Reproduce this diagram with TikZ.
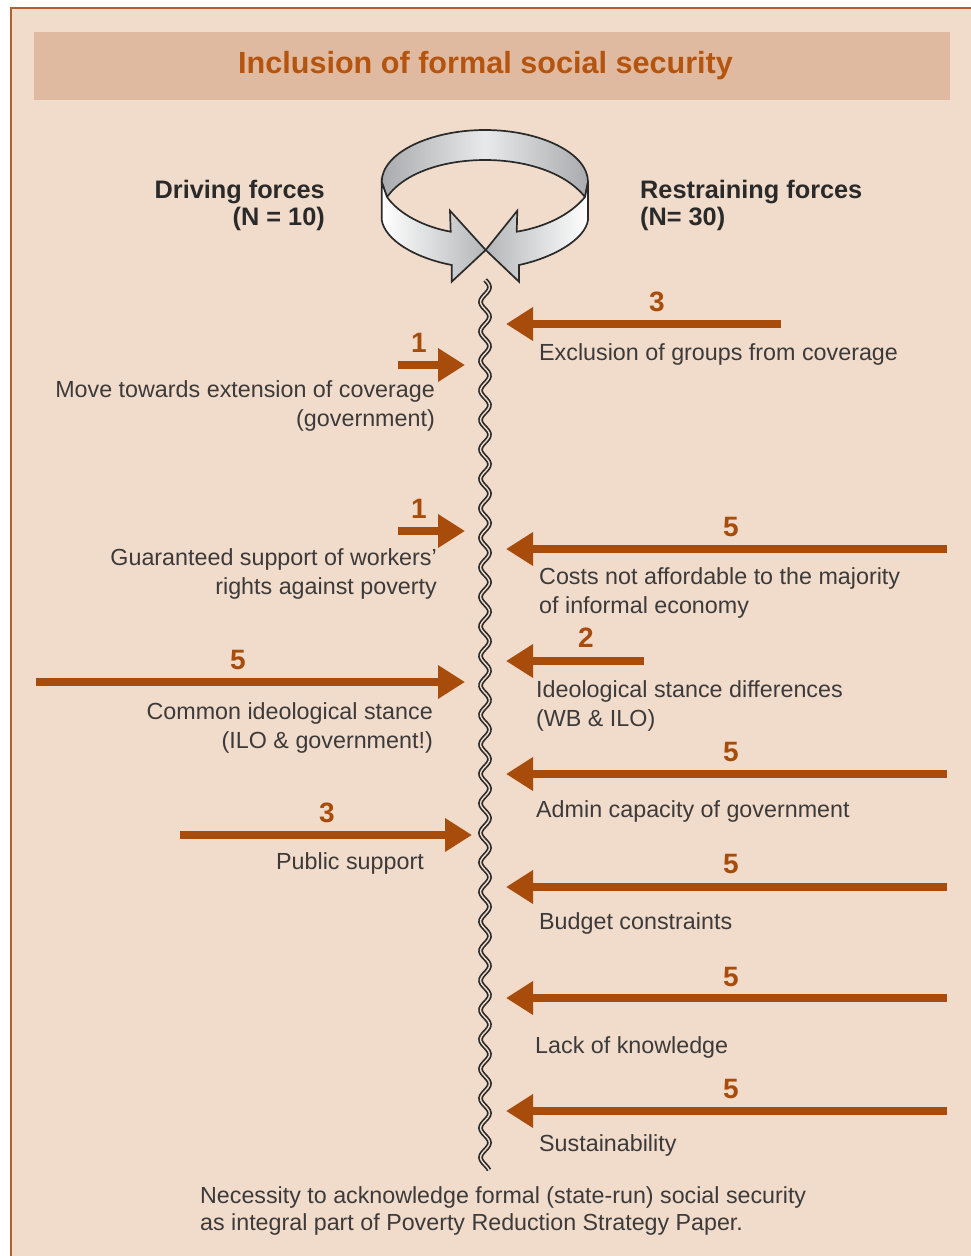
\documentclass[tikz,border=0pt]{standalone}
\usepackage{fontspec}
\setmainfont{Liberation Sans}
\usetikzlibrary{arrows.meta}
\definecolor{bgc}{HTML}{F1DCCB}
\definecolor{hdrc}{HTML}{E0BAA0}
\definecolor{edgec}{HTML}{B0622E}
\definecolor{rust}{HTML}{A84C0B}
\definecolor{titlec}{HTML}{B5540F}
\definecolor{txt}{HTML}{3C3A3A}
\definecolor{ink}{HTML}{2A2A2A}
\definecolor{g1}{HTML}{A9ABAE}
\definecolor{g2}{HTML}{E8E9EA}
\definecolor{g3}{HTML}{B4B6B8}
\tikzset{
 force/.style={draw=rust,line width=8pt,-{Triangle[length=27pt,width=32pt]}},
 num/.style={font=\fontsize{28}{28}\selectfont\bfseries,text=rust,inner sep=0pt,anchor=center},
 lblr/.style={font=\fontsize{23.3}{28.6}\selectfont,text=txt,inner sep=0pt,align=right,anchor=base east},
 lbll/.style={font=\fontsize{23.3}{28.6}\selectfont,text=txt,inner sep=0pt,align=left,anchor=base west},
 hd/.style={font=\fontsize{25.3}{27}\selectfont\bfseries,text=ink,inner sep=0pt},
 ribbon/.style={draw=ink,line width=1.7pt,line join=miter},
 waveline/.style={draw=ink,line width=1.7pt,double=bgc,double distance=1.4pt,line join=round}
}
\begin{document}
\begin{tikzpicture}[x=1pt,y=-1pt]
\useasboundingbox (0,0) rectangle (971,1256);
\fill[white] (0,0) rectangle (971,1256);
\fill[bgc] (11,8) rectangle (971,1256);
\draw[edgec,line width=1.4pt] (11,1256) -- (11,8) -- (971,8);
\fill[hdrc] (34,32) rectangle (950,100);
\node[font=\fontsize{30.6}{32}\selectfont\bfseries,text=titlec,inner sep=0pt] (title) at (485.5,66) {Inclusion of formal social security};
% ribbon
\draw[ribbon,left color=g1,right color=g1,middle color=g2]
 (381.7,182) .. controls (381.7,153) and (430,130) .. (485,130)
 .. controls (540,130) and (588,153) .. (588,182)
 -- (585,197) .. controls (565,172) and (525,160) .. (485,160)
 .. controls (445,160) and (405,172) .. (387,197) -- cycle;
\draw[ribbon,left color=white,right color=g3]
 (381.7,182) -- (381.7,220) .. controls (385,240) and (415,258) .. (451.7,265)
 -- (451.7,281.7) -- (485.7,250) -- (450,210.7) -- (450.7,231.7)
 .. controls (425,227) and (400,215) .. (387,197) -- cycle;
\draw[ribbon,left color=g3,right color=white]
 (588,182) -- (588,220) .. controls (585,240) and (552,258) .. (519,265)
 -- (519,281.7) -- (485.7,250) -- (517.3,210.7) -- (516.7,231.7)
 .. controls (545,227) and (570,215) .. (585,197) -- cycle;
% barrier
\draw[waveline] plot[variable=\t,domain=280:1170,samples=360,smooth] ({485+4.5*sin((\t-309.3)*12.2034)},\t);
% headings
\node[hd,align=right,anchor=base east] (drv) at (325,225) {Driving forces\\(N = 10)};
\node[hd,align=left,anchor=base west] (res) at (640,225) {Restraining forces\\(N= 30)};
% endpoints
\foreach \n/\xa/\xb/\y in {a/398/465/365,b/398/465/531,c/36/465/682,d/180/472/835,
  e/781/506/324,f/947/506/549,g/644/506/661,h/947/506/774,i/947/506/887,j/947/506/998,k/947/506/1111}{
  \coordinate (\n0) at (\xa,\y);
  \coordinate (\n1) at (\xb,\y);
  \draw[force] (\n0) -- (\n1);
}
% numbers
\node[num] (na) at (419,343) {1};
\node[num] (nb) at (419,509) {1};
\node[num] (nc) at (238,660) {5};
\node[num] (nd) at (327,813) {3};
\node[num] (ne) at (657,302) {3};
\node[num] (nf) at (731,527) {5};
\node[num] (ng) at (586,638) {2};
\node[num] (nh) at (731,752) {5};
\node[num] (ni) at (731,864) {5};
\node[num] (nj) at (731,977) {5};
\node[num] (nk) at (731,1089) {5};
% labels
\node[lblr] (la) at (435,426.5) {Move towards extension of coverage\\(government)};
\node[lblr] (lb) at (437,594.5) {Guaranteed support of workers’\\rights against poverty};
\node[lblr] (lc) at (433,748) {Common ideological stance\\(ILO \& government!)};
\node[lblr] (ld) at (424,869) {Public support};
\node[lbll] (le) at (539,360) {Exclusion of groups from coverage};
\node[lbll] (lf) at (539,613.5) {Costs not affordable to the majority\\of informal economy};
\node[lbll] (lg) at (536,726) {Ideological stance differences\\(WB \& ILO)};
\node[lbll] (lh) at (536,817) {Admin capacity of government};
\node[lbll] (li) at (539,929) {Budget constraints};
\node[lbll] (lj) at (535,1053) {Lack of knowledge};
\node[lbll] (lk) at (539,1151) {Sustainability};
\node[lbll,font=\fontsize{23.25}{27}\selectfont] (foot) at (200,1230) {Necessity to acknowledge formal (state-run) social security\\as integral part of Poverty Reduction Strategy Paper.};
\end{tikzpicture}
\end{document}
